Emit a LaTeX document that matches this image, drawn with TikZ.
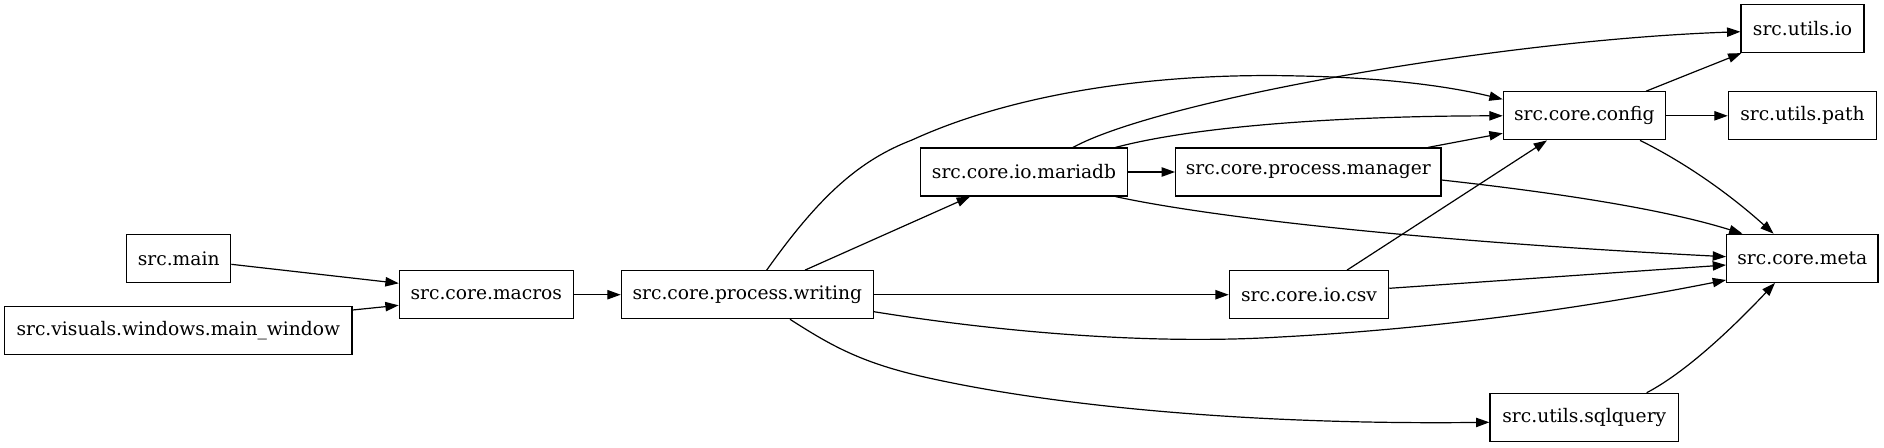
\documentclass[tikz,border=0pt]{standalone}
\usepackage{fontspec}
\newfontfamily\dgfont{DejaVu Serif}
\usetikzlibrary{arrows.meta,calc}
\begin{document}
\begin{tikzpicture}[x=0.75pt,y=-0.75pt,
  box/.style={draw, line width=0.9pt, minimum height=36pt, inner sep=0pt,
    font=\dgfont\fontsize{14pt}{16pt}\selectfont},
  edge/.style={draw, line width=0.9pt, -{Triangle[length=10pt,width=7pt]}}]
\useasboundingbox (0,0) rectangle (1884,447);

\node[box, minimum width=78pt]    (main)     at (178.7,258.3) {src.main};
\node[box, minimum width=260.5pt] (mw)       at (178.3,330.3) {src.visuals.windows.main\_window};
\node[box, minimum width=130.5pt] (macros)   at (486.3,294.7) {src.core.macros};
\node[box, minimum width=189pt]   (writing)  at (747.3,294.7) {src.core.process.writing};
\node[box, minimum width=155.5pt] (mariadb)  at (1024,172)    {src.core.io.mariadb};
\node[box, minimum width=199pt]   (manager)  at (1308.3,172)  {src.core.process.manager};
\node[box, minimum width=119.5pt] (csv)      at (1309,294.7)  {src.core.io.csv};
\node[box, minimum width=141.5pt] (sqlquery) at (1584.3,417.3){src.utils.sqlquery};
\node[box, minimum width=121.5pt] (config)   at (1584.3,115.8){src.core.config};
\node[box, minimum width=92.25pt] (io)       at (1802.5,28.5) {src.utils.io};
\node[box, minimum width=111.3pt] (path)     at (1802.5,115.8){src.utils.path};
\node[box, minimum width=113.5pt] (meta)     at (1802.3,258.3){src.core.meta};

% left part
\draw[edge] ($(main.east)+(0,6)$) -- ($(macros.west)+(0,-11.4)$);
\draw[edge] ($(mw.east)+(0,-20.3)$) -- ($(macros.west)+(0,10.6)$);
\draw[edge] (macros.east) -- (writing.west);

% from writing
\draw[edge] ($(writing.north)+(57.7,0)$) -- ($(mariadb.south)+(-54,0)$);
\draw[edge] ($(writing.north)+(19.4,0)$) .. controls (820,195) and (860,160) .. (912,140)
   .. controls (1010,95) and (1150,72) .. (1300,76)
   .. controls (1400,78) and (1460,89) .. ($(config.west)+(0,-16.5)$);
\draw[edge] (writing.east) -- (csv.west);
\draw[edge] ($(writing.east)+(0,17)$) .. controls (1000,332) and (1150,345) .. (1280,337)
   .. controls (1450,328) and (1600,305) .. ($(meta.west)+(0,21.7)$);
\draw[edge] ($(writing.south)+(42.7,0)$) .. controls (830,345) and (860,362) .. (920,376)
   .. controls (1050,406) and (1250,425) .. ($(sqlquery.west)+(0,5)$);

% from mariadb
\draw[edge] (mariadb.east) -- (manager.west);
\draw[edge] ($(mariadb.north)+(91.6,0)$) .. controls (1200,125) and (1350,116) .. (config.west);
\draw[edge] ($(mariadb.north)+(49,0)$) .. controls (1160,100) and (1500,40) .. ($(io.west)+(0,3.2)$);
\draw[edge] ($(mariadb.south)+(91.6,0)$) .. controls (1200,215) and (1400,240) .. ($(meta.west)+(0,-1.6)$);

% from manager
\draw[edge] ($(manager.north)+(119.7,0)$) -- ($(config.west)+(0,17.5)$);
\draw[edge] ($(manager.east)+(0,8)$) .. controls (1550,192) and (1660,208) .. ($(meta.north)+(-59.8,0)$);

% from config
\draw[edge] ($(config.north)+(61.7,0)$) -- ($(io.south west)+(1,0)$);
\draw[edge] (config.east) -- (path.west);
\draw[edge] ($(config.south)+(55.7,0)$) .. controls (1680,160) and (1725,190) .. ($(meta.north)+(-28.7,0)$);

% from csv
\draw[edge] ($(csv.north)+(38,0)$) -- ($(config.south)+(-37.3,0)$);
\draw[edge] ($(csv.east)+(0,-6.4)$) -- ($(meta.west)+(0,6.7)$);

% from sqlquery
\draw[edge] ($(sqlquery.north)+(62.4,0)$) .. controls (1690,370) and (1740,320) .. ($(meta.south)+(-27.3,0)$);
\end{tikzpicture}
\end{document}
